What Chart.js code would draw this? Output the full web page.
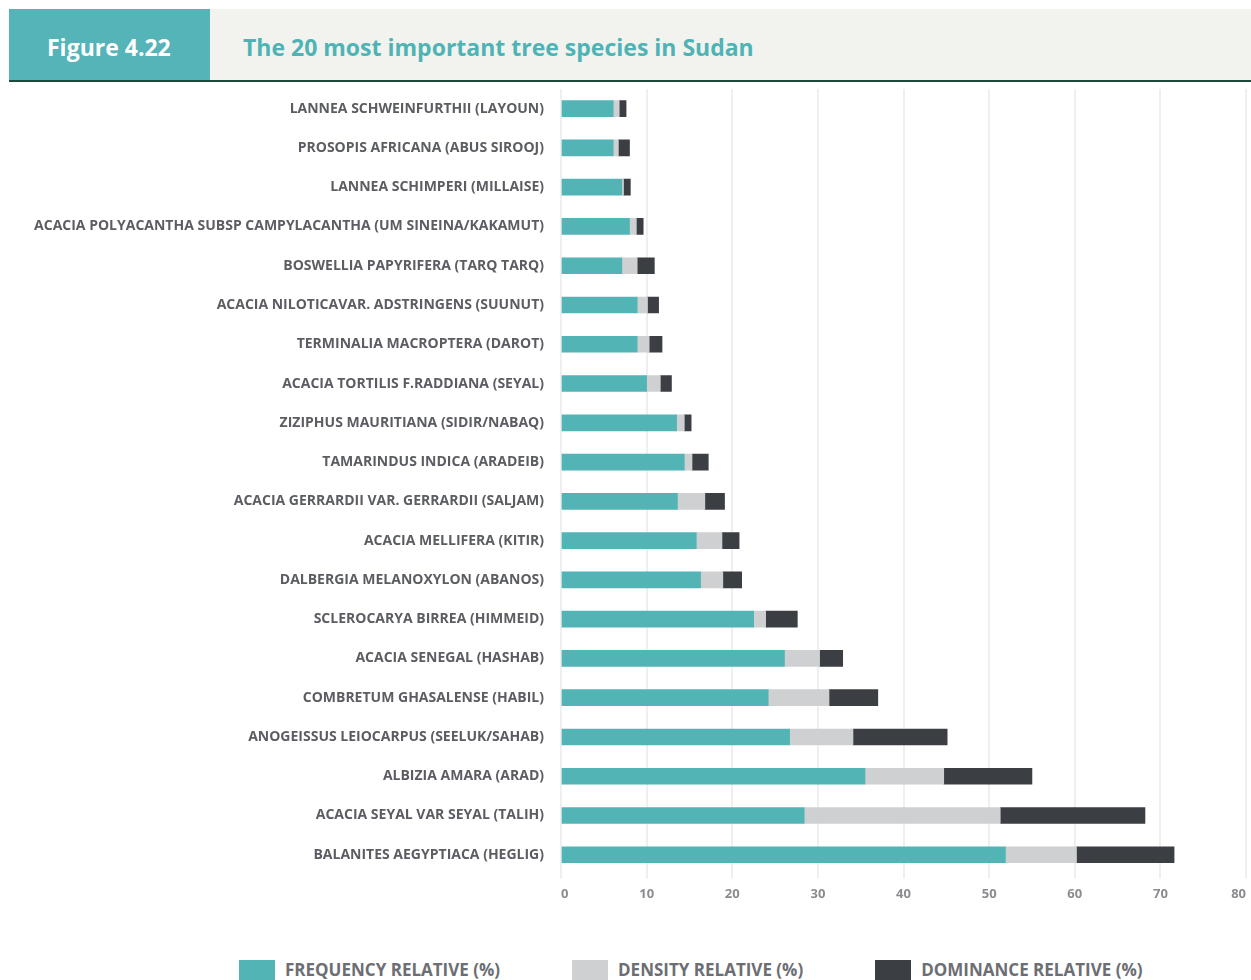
<!DOCTYPE html>
<html>
<head>
<meta charset="utf-8">
<script src="https://cdn.jsdelivr.net/npm/chart.js@4/dist/chart.umd.min.js"></script>
<style>
  body { margin: 0; background: #fff; font-family: "Open Sans", sans-serif; width: 1251px; height: 980px; overflow: hidden; position: relative; }
  .hdr { position: absolute; left: 9px; top: 9px; width: 1242px; height: 71px; background: #f2f3ef; border-bottom: 2px solid #1e4a3d; }
  .hdr .num { position: absolute; left: 0; top: 0; width: 201px; height: 71px; background: #54b4b7; color: #fff; font-weight: 700; font-size: 23px; line-height: 77px; padding-left: 38px; box-sizing: border-box; }
  .hdr .ttl { position: absolute; left: 234px; top: 0; line-height: 77px; font-size: 23px; font-weight: 700; color: #4fb3b5; }
  #wrap { position: absolute; left: 0; top: 82px; width: 1251px; height: 828px; }
  #legend { position: absolute; left: 239px; top: 960px; display: flex; gap: 72px; }
  #legend .item { display: flex; align-items: flex-start; }
  #legend .box { width: 36px; height: 20px; margin-right: 10px; }
  #legend .txt { font-size: 17px; font-weight: 700; color: #6c6e73; line-height: 20px; }
</style>
</head>
<body>
<div class="hdr">
  <div class="num">Figure 4.22</div>
  <div class="ttl">The 20 most important tree species in Sudan</div>
</div>
<div id="wrap"><canvas id="speciesChart"></canvas></div>
<div id="legend"></div>

<script>
// species, top to bottom
const species = [
  "LANNEA SCHWEINFURTHII (LAYOUN)",
  "PROSOPIS AFRICANA (ABUS SIROOJ)",
  "LANNEA SCHIMPERI (MILLAISE)",
  "ACACIA POLYACANTHA SUBSP CAMPYLACANTHA (UM SINEINA/KAKAMUT)",
  "BOSWELLIA PAPYRIFERA (TARQ TARQ)",
  "ACACIA NILOTICAVAR. ADSTRINGENS (SUUNUT)",
  "TERMINALIA MACROPTERA (DAROT)",
  "ACACIA TORTILIS F.RADDIANA (SEYAL)",
  "ZIZIPHUS MAURITIANA (SIDIR/NABAQ)",
  "TAMARINDUS INDICA (ARADEIB)",
  "ACACIA GERRARDII VAR. GERRARDII (SALJAM)",
  "ACACIA MELLIFERA (KITIR)",
  "DALBERGIA MELANOXYLON (ABANOS)",
  "SCLEROCARYA BIRREA (HIMMEID)",
  "ACACIA SENEGAL (HASHAB)",
  "COMBRETUM GHASALENSE (HABIL)",
  "ANOGEISSUS LEIOCARPUS (SEELUK/SAHAB)",
  "ALBIZIA AMARA (ARAD)",
  "ACACIA SEYAL VAR SEYAL (TALIH)",
  "BALANITES AEGYPTIACA (HEGLIG)"
]

const frequency = [6.1, 6.1, 7.1, 8.0, 7.1, 8.9, 8.9, 10.0, 13.5, 14.4, 13.6, 15.8, 16.3, 22.5, 26.1, 24.2, 26.7, 35.5, 28.4, 51.9]
const density   = [0.7, 0.6, 0.2, 0.8, 1.8, 1.2, 1.4, 1.6, 0.9, 0.9, 3.2, 3.0, 2.6, 1.4, 4.1, 7.1, 7.4, 9.2, 22.9, 8.3]
const dominance = [0.8, 1.3, 0.8, 0.8, 2.0, 1.3, 1.5, 1.3, 0.8, 1.9, 2.3, 2.0, 2.2, 3.7, 2.7, 5.7, 11.0, 10.3, 16.9, 11.4]

const seriesNames = ["FREQUENCY RELATIVE (%)", "DENSITY RELATIVE (%)", "DOMINANCE RELATIVE (%)"]
const seriesColors = ["#53b4b6", "#cfd0d2", "#3b3e43"]

const xMin = 0
const xMax = 80
const xStep = 10

const datasets = [frequency, density, dominance].map((values, i) => ({
  label: seriesNames[i],
  data: values,
  backgroundColor: seriesColors[i],
  barThickness: 16,
  borderWidth: 0,
}))

const chart = new Chart(document.getElementById("speciesChart"), {
  type: "bar",
  data: { labels: species, datasets },
  options: {
    indexAxis: "y",
    responsive: true,
    maintainAspectRatio: false,
    animation: false,
    layout: { padding: { top: 7, right: 5, left: 0, bottom: 0 } },
    plugins: {
      legend: { display: false },
      tooltip: { enabled: false },
    },
    scales: {
      x: {
        type: "linear",
        stacked: true,
        min: xMin,
        max: xMax,
        ticks: {
          stepSize: xStep,
          align: "inner",
          color: "#8b8c90",
          padding: 8,
          font: { family: "Open Sans", weight: "700", size: 13 },
        },
        grid: { color: "#efefef", lineWidth: 2, tickLength: 4 },
        border: { display: false },
        afterFit(scale) {
          // let the layout padding decide the right edge
          scale.paddingLeft = 0
          scale.paddingRight = 0
        },
      },
      y: {
        stacked: true,
        offset: true,
        grid: { display: false, drawTicks: false },
        border: { display: false },
        ticks: {
          autoSkip: false,
          color: "#5b5d63",
          padding: 17,
          font: { family: "Open Sans", weight: "700", size: 14 },
        },
        afterFit(scale) {
          scale.width = 561
          scale.paddingTop = 0
          scale.paddingBottom = 0
        },
      },
    },
  },
})

// legend built from the chart's datasets
const legendEl = document.getElementById("legend")
chart.data.datasets.forEach((ds) => {
  const item = document.createElement("div")
  item.className = "item"
  item.innerHTML = `<div class="box" style="background:${ds.backgroundColor}"></div><div class="txt">${ds.label}</div>`
  legendEl.appendChild(item)
})
</script>
</body>
</html>
